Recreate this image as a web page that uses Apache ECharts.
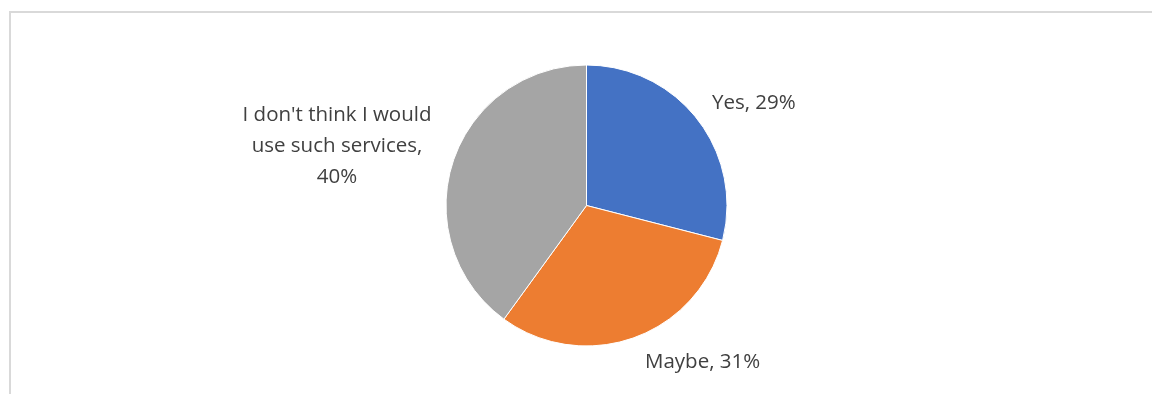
<!DOCTYPE html>
<html>
<head>
<meta charset="utf-8">
<script src="https://cdn.jsdelivr.net/npm/echarts@6/dist/echarts.min.js"></script>
<style>
html,body{margin:0;padding:0;background:#fff;}
#frame{position:absolute;left:9px;top:11px;width:1200px;height:500px;border-left:2px solid #d9d9d9;border-top:2px solid #d9d9d9;box-sizing:border-box;}
#chart{position:absolute;left:0;top:0;width:1152px;height:394px;}
</style>
</head>
<body>
<div id="frame"></div>
<div id="chart"></div>
<script>
const categories = ["Yes", "Maybe", "I don't think I would\nuse such services"];
const values = [29, 31, 40];
const colors = ["#4472C4", "#ED7D31", "#A5A5A5"];

const chart = echarts.init(document.getElementById('chart'), null, {renderer: 'canvas'});
const labelSpots = [
  {x: 712, y: 103, align: 'left'},
  {x: 645, y: 362, align: 'left'},
  {x: 337, y: 146, align: 'center'}
];
chart.setOption({
  animation: false,
  backgroundColor: 'transparent',
  series: [{
    type: 'pie',
    center: [586.5, 205.5],
    radius: 140.5,
    startAngle: 90,
    clockwise: true,
    data: categories.map((c, i) => ({name: c, value: values[i], itemStyle: {color: colors[i]}})),
    itemStyle: {borderColor: '#fff', borderWidth: 1},
    label: {
      show: true,
      position: 'outside',
      formatter: p => p.name + (p.name.indexOf('\n') >= 0 ? ',\n' : ', ') + p.value + '%',
      color: '#404040',
      fontFamily: 'Open Sans',
      fontSize: 20.5,
      lineHeight: 31,
      align: 'center'
    },
    labelLine: {show: false},
    labelLayout: p => Object.assign({verticalAlign: 'middle'}, labelSpots[p.dataIndex]),
    emphasis: {disabled: true}
  }]
});
</script>
</body>
</html>
